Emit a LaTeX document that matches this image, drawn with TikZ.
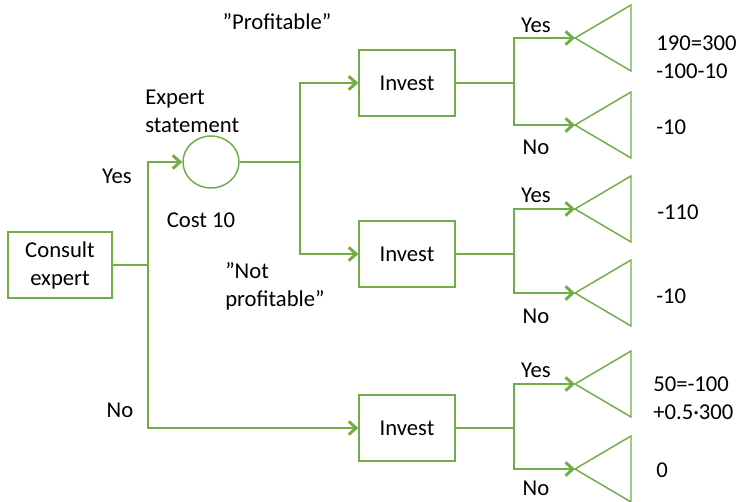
\documentclass[tikz,border=0pt]{standalone}
\usepackage{fontspec}
\setmainfont{Carlito}
\usetikzlibrary{arrows.meta}
\usetikzlibrary{shapes.geometric}
\definecolor{leafgreen}{HTML}{70AD47}
\tikzset{box/.style={draw=leafgreen,line width=1.1pt,minimum height=49.5pt,inner sep=0pt,align=center},
 chance/.style={draw=leafgreen,line width=1.1pt,ellipse,minimum width=42pt,minimum height=39pt,inner sep=0pt},
 link/.style={draw=leafgreen,line width=2.2pt},
 arr/.style={link,-{Straight Barb[length=5.5pt,width=10pt]}},
 leaf/.style={draw=leafgreen,line width=1.1pt,line join=miter},
 lbl/.style={inner sep=0pt,align=left},
 }

\begin{document}
\begin{tikzpicture}[x=0.75pt,y=-0.75pt,every node/.style={font=\fontsize{17}{21}\selectfont}]
        \useasboundingbox (0,0) rectangle (742,502);
        \node[box,minimum width=78pt] (consult) at (60,265) {Consult\\expert};
        \node[chance] (expert) at (211,162) {};
        \node[box,minimum width=72pt] (inv1) at (407,83) {Invest};
        \node[box,minimum width=72pt] (inv2) at (407,254) {Invest};
        \node[box,minimum width=72pt] (inv3) at (407,428) {Invest};
        \coordinate (j0) at (148,265);
        \coordinate (j2) at (300,162);
        \coordinate (j1) at (514,83);
        \coordinate (j3) at (514,254);
        \coordinate (j4) at (514,428);
        % apexes of the end triangles
        \coordinate (t1a) at (575,38);
        \coordinate (t1b) at (575,125);
        \coordinate (t2a) at (575,209);
        \coordinate (t2b) at (575,293);
        \coordinate (t3a) at (575,384);
        \coordinate (t3b) at (575,469);
        \draw[link] (consult) -- (j0);
        \draw[arr] (j0) |- (expert);
        \draw[arr] (j0) |- (inv3);
        \draw[link] (expert) -- (j2);
        \draw[arr] (j2) |- (inv1);
        \draw[arr] (j2) |- (inv2);
        \draw[link] (inv1) -- (j1);
        \draw[link] (inv2) -- (j3);
        \draw[link] (inv3) -- (j4);
        \draw[arr] (j1) |- (t1a);
        \draw[arr] (j1) |- (t1b);
        \draw[arr] (j3) |- (t2a);
        \draw[arr] (j3) |- (t2b);
        \draw[arr] (j4) |- (t3a);
        \draw[arr] (j4) |- (t3b);
        \foreach \t in {t1a,t1b,t2a,t2b,t3a,t3b}
            \draw[leaf] (\t) -- ++(56,-33) -- ++(0,66) -- cycle;
        \node (yes0) at (117,176) {Yes};
        \node (no0) at (120,410) {No};
        \node[lbl,anchor=west] (stmt) at (145,111) {Expert\\statement};
        \node (cost) at (201,220) {Cost 10};
        \node (prof) at (277,22) {”Profitable”};
        \node[lbl,anchor=west] (notprof) at (225,286) {”Not\\profitable”};
        \node (yes1) at (536,25) {Yes};
        \node (no1) at (536,147) {No};
        \node (yes2) at (536,195) {Yes};
        \node (no2) at (536,316) {No};
        \node (yes3) at (536,370) {Yes};
        \node (no3) at (536,488) {No};
        \node[lbl,anchor=west] (v1a) at (656,57) {190=300\\-100-10};
        \node[lbl,anchor=west] (v1b) at (656,127) {-10};
        \node[lbl,anchor=west] (v2a) at (657,212) {-110};
        \node[lbl,anchor=west] (v2b) at (656,296) {-10};
        \node[lbl,anchor=west] (v3a) at (653,398) {50=-100\\+0.5·300};
        \node[lbl,anchor=west] (v3b) at (656,470) {0};
    \end{tikzpicture}
\end{document}
